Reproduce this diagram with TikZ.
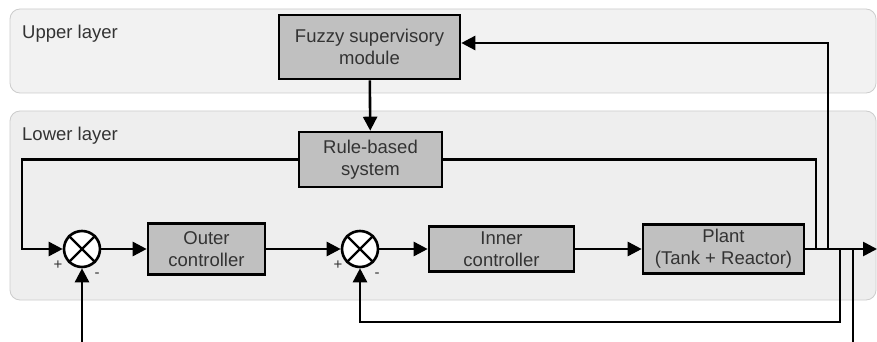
\documentclass[tikz,border=0pt]{standalone}
\usepackage{fontspec}
\setmainfont{Liberation Sans}
\usetikzlibrary{arrows.meta}
\definecolor{lyrupper}{HTML}{F2F2F2}
\definecolor{lyrlower}{HTML}{EEEEEE}
\definecolor{lyredge} {HTML}{CCCCCC}
\definecolor{blkfill} {HTML}{C0C0C0}
\definecolor{txtgray} {HTML}{333333}

\begin{document}
\begin{tikzpicture}[x=1pt, y=-1pt,
      layer/.style={draw=lyredge, line width=0.8pt, rounded corners=10pt},
      block/.style={draw, fill=blkfill, line width=2.6pt, text=txtgray, align=center,
                    font=\fontsize{18.5}{22}\selectfont, inner sep=0pt},
      sum/.style={draw, circle, fill=white, line width=2.6pt, minimum size=36pt, inner sep=0pt},
      sign/.style={text=txtgray, font=\fontsize{15}{15}\selectfont, inner sep=0pt},
      lbl/.style={anchor=base west, text=txtgray, font=\fontsize{18.5}{22}\selectfont, inner sep=0pt},
      sig/.style={line width=2.6pt, -{Triangle[length=14pt, width=14pt]}},
      wire/.style={line width=2.6pt},
    ]
      \useasboundingbox (0,0) rectangle (877,342);
      \fill[white] (0,0) rectangle (877,342);
      \draw[layer, fill=lyrupper] (10,9) rectangle (876,93);
      \draw[layer, fill=lyrlower] (10,111) rectangle (876,300);
      \node[lbl] (upper) at (22,39) {Upper layer};
      \node[lbl] (lower) at (22,140) {Lower layer};

      \node[block, minimum width=181pt, minimum height=64pt] (fuzzy) at (369.5,47)
        {Fuzzy supervisory\\module};
      \node[block, minimum width=143pt, minimum height=55pt] (rule) at (370.5,159.5)
        {Rule-based\\system};
      \node[sum] (s1) at (82,249) {};
      \node[block, minimum width=117pt, minimum height=51pt] (outer) at (206.5,249)
        {Outer\\controller};
      \node[sum] (s2) at (360,249) {};
      \node[block, minimum width=145pt, minimum height=45pt] (inner) at (501.5,249)
        {Inner\\controller};
      \node[block, minimum width=161pt, minimum height=49pt] (plant) at (723.5,249)
        {Plant\\(Tank + Reactor)};

      \foreach \s in {s1,s2}
        \draw[wire, line width=2.2pt] (\s.north east) -- (\s.south west)
                                      (\s.north west) -- (\s.south east);
      \node[sign] (p1) at ([shift={(-24,16)}]s1.center) {+};
      \node[sign] (m1) at ([shift={(15,26)}]s1.center) {-};
      \node[sign] (p2) at ([shift={(-22,16)}]s2.center) {+};
      \node[sign] (m2) at ([shift={(17,26)}]s2.center) {-};

      \coordinate (out) at (877,249);
      \coordinate (tr) at (816,249);
      \coordinate (tf) at (828,249);
      \coordinate (ti) at (840,249);
      \coordinate (td) at (853,249);
      \coordinate (bi) at (840,322);
      \coordinate (bd) at (853,342);
      \coordinate (ref) at (82,342);
      \coordinate (cl) at (22,159.5);

      \draw[sig] (fuzzy) -- (rule);
      \draw[sig] (rule.west) -- (cl) |- (s1.west);
      \draw[sig] (ref) -- (s1.south);
      \draw[sig] (s1) -- (outer);
      \draw[sig] (outer) -- (s2);
      \draw[sig] (s2) -- (inner);
      \draw[sig] (inner) -- (plant);
      \draw[sig] (plant) -- (out);
      \draw[wire] (rule.east) -| (tr);
      \draw[sig] (tf) |- ([yshift=4pt]fuzzy.east);
      \draw[sig] (ti) -- (bi) -| (s2.south);
      \draw[wire] (td) -- (bd);
    \end{tikzpicture}
\end{document}
